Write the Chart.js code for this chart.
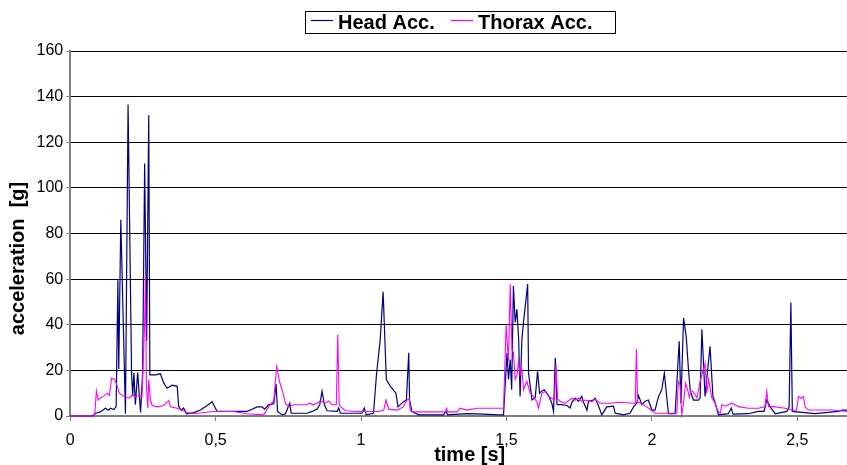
<!DOCTYPE html>
<html>
<head>
<meta charset="utf-8">
<script src="https://cdn.jsdelivr.net/npm/chart.js@4"></script>
<style>
  html, body { margin: 0; padding: 0; background: #fff; }
  #wrap { width: 847px; height: 465px; position: relative; }
</style>
</head>
<body>
<div id="wrap"><canvas id="myChart"></canvas></div>
<script>
// Head acceleration [g] over time [s]
const headTime = [0, 0.077, 0.087, 0.104, 0.121, 0.132, 0.138, 0.150, 0.158, 0.164,
  0.167, 0.174, 0.190, 0.199, 0.211, 0.215, 0.219, 0.224, 0.232, 0.242,
  0.249, 0.256, 0.263, 0.270, 0.274, 0.293, 0.310, 0.322, 0.333, 0.351,
  0.368, 0.373, 0.382, 0.390, 0.400, 0.425, 0.448, 0.471, 0.488, 0.505,
  0.561, 0.608, 0.643, 0.660, 0.668, 0.682, 0.700, 0.708, 0.713, 0.729,
  0.740, 0.755, 0.760, 0.814, 0.832, 0.849, 0.858, 0.866, 0.874, 0.883,
  0.918, 0.923, 0.929, 1.003, 1.011, 1.018, 1.043, 1.053, 1.066, 1.076,
  1.087, 1.101, 1.120, 1.127, 1.146, 1.156, 1.164, 1.167, 1.175, 1.198,
  1.283, 1.292, 1.298, 1.364, 1.420, 1.472, 1.490, 1.502, 1.507, 1.513,
  1.518, 1.524, 1.530, 1.536, 1.542, 1.547, 1.553, 1.559, 1.573, 1.576,
  1.588, 1.599, 1.607, 1.614, 1.622, 1.630, 1.645, 1.656, 1.662, 1.668,
  1.674, 1.691, 1.708, 1.719, 1.725, 1.736, 1.748, 1.759, 1.765, 1.777,
  1.782, 1.799, 1.805, 1.816, 1.828, 1.845, 1.868, 1.874, 1.891, 1.902,
  1.925, 1.937, 1.948, 1.954, 1.966, 1.977, 1.988, 2.000, 2.011, 2.023,
  2.034, 2.043, 2.057, 2.080, 2.094, 2.100, 2.109, 2.118, 2.126, 2.132,
  2.143, 2.160, 2.166, 2.172, 2.183, 2.200, 2.210, 2.218, 2.229, 2.263,
  2.273, 2.279, 2.332, 2.366, 2.386, 2.395, 2.407, 2.424, 2.464, 2.472,
  2.478, 2.483, 2.561, 2.641, 2.653, 2.671];
const headAcc = [0, 0, 1.2, 1.8, 3.4, 2.5, 3.4, 2.8, 4.1, 59.5,
  20.6, 86, 1, 136.5, 19, 9, 19, 5, 19, 1.5,
  19, 110.7, 33, 131.8, 18, 18, 18.5, 14.4, 12.2, 13.5,
  13, 4.3, 2.5, 3.5, 1, 1.5, 2.6, 4.6, 6.3, 2,
  2, 2, 4, 4, 3, 4.9, 5.4, 14, 2, 0.5,
  1, 5.6, 1.2, 1.2, 2, 3, 4.9, 10.8, 5, 2.3,
  2, 3.5, 1.2, 1.2, 3.5, 0.5, 1.2, 18, 33.5, 54.5,
  16, 13, 10, 4, 6.3, 7, 27.7, 7, 2, 0.5,
  0.5, 2, 0.5, 1, 0.8, 0.5, 0.5, 27.7, 16, 24.7,
  11.5, 57, 41, 46.8, 33.5, 8.6, 33.5, 41.6, 57.8, 18.8,
  7, 8, 19.6, 10, 11, 11.5, 9, 5.6, 2, 25.5,
  5, 5, 4.6, 3.5, 6, 7.8, 6.5, 8.6, 6, 2.6,
  6.5, 7, 7.8, 4.6, 0.5, 4, 4.3, 1.2, 0.8, 0.5,
  1.2, 4, 5.6, 9, 5, 6.5, 7, 2.6, 2.6, 8.6,
  11.5, 18.8, 1, 1, 32.8, 5.6, 43, 35, 20.3, 11,
  7, 7, 8, 38, 8.6, 30.6, 8.6, 5.6, 0.5, 1,
  3.5, 0.8, 1, 2, 2, 7, 4, 1, 2, 4,
  49.7, 2, 1, 2, 2.6, 2.6];

// Thorax acceleration [g] over time [s]
const thoraxTime = [0, 0.084, 0.090, 0.096, 0.104, 0.115, 0.127, 0.135, 0.142, 0.153,
  0.162, 0.169, 0.184, 0.201, 0.213, 0.224, 0.236, 0.247, 0.256, 0.259,
  0.262, 0.267, 0.270, 0.276, 0.282, 0.299, 0.322, 0.339, 0.345, 0.368,
  0.402, 0.425, 0.492, 0.561, 0.608, 0.665, 0.682, 0.700, 0.710, 0.720,
  0.732, 0.740, 0.751, 0.768, 0.791, 0.814, 0.823, 0.835, 0.849, 0.860,
  0.877, 0.889, 0.900, 0.915, 0.920, 0.925, 0.931, 0.946, 0.986, 1.032,
  1.060, 1.078, 1.086, 1.095, 1.124, 1.145, 1.158, 1.166, 1.169, 1.175,
  1.249, 1.290, 1.294, 1.298, 1.330, 1.341, 1.364, 1.399, 1.444, 1.490,
  1.499, 1.507, 1.513, 1.519, 1.524, 1.530, 1.536, 1.542, 1.547, 1.553,
  1.559, 1.570, 1.582, 1.593, 1.605, 1.610, 1.622, 1.633, 1.645, 1.656,
  1.665, 1.670, 1.676, 1.685, 1.702, 1.725, 1.736, 1.748, 1.759, 1.771,
  1.794, 1.805, 1.816, 1.822, 1.857, 1.891, 1.937, 1.943, 1.947, 1.951,
  1.960, 1.983, 2.000, 2.011, 2.086, 2.091, 2.097, 2.103, 2.109, 2.116,
  2.122, 2.129, 2.134, 2.143, 2.155, 2.166, 2.174, 2.183, 2.189, 2.195,
  2.206, 2.218, 2.225, 2.235, 2.241, 2.252, 2.275, 2.298, 2.332, 2.366,
  2.389, 2.395, 2.401, 2.418, 2.458, 2.481, 2.498, 2.504, 2.513, 2.521,
  2.527, 2.538, 2.619, 2.671];
const thoraxAcc = [0, 0, 11, 7, 8, 8.6, 10, 9, 16.6, 16,
  13, 10, 8.6, 7.8, 9, 8.5, 9, 8.5, 40.9, 61.5,
  13, 3.4, 16, 7, 4.6, 4, 4.6, 6.8, 4, 3.4,
  1.5, 1, 2, 2, 1, 0.5, 4, 6.8, 21.8, 15,
  10, 5.5, 4, 4.9, 4.9, 4.9, 5.6, 4.9, 5.6, 6.6,
  5.6, 6.6, 4.9, 4.9, 35.7, 4.9, 4, 2.3, 2, 2,
  2, 2.6, 7, 3, 2.6, 4, 7, 7.5, 2.6, 1.8,
  1.8, 1.8, 3.4, 1.8, 1.8, 3.4, 2.6, 3.4, 3.4, 3.4,
  40, 24, 57.8, 29, 28, 16, 18, 24, 18, 20.3,
  11.5, 15.2, 10, 8.6, 6, 3.4, 10, 10.8, 8.6, 7.8,
  7, 22.5, 7.5, 6.3, 5.6, 7.8, 7, 7.8, 6.3, 7,
  6.3, 7.3, 6.3, 5.6, 5.6, 6, 5.6, 5.6, 29.4, 6.2,
  5.6, 4, 2.3, 1.2, 1.2, 15.2, 13.7, 0.5, 5.6, 14.4,
  12, 8.2, 11, 10.5, 8, 15.2, 19, 23, 10, 16,
  8, 5.6, 2.6, 1.2, 4.9, 4.3, 5.6, 4.1, 3.4, 3.4,
  4.1, 10.8, 4.1, 4.1, 3.4, 2.6, 2.6, 8.6, 7.8, 8.6,
  4, 2.6, 2.6, 2];

const xTicks = [0, 0.5, 1, 1.5, 2, 2.5];
const seriesNames = ['Head Acc.', 'Thorax Acc.'];
const seriesColors = ['#000080', '#FF00FF'];

const toPoints = (xs, ys) => xs.map((x, i) => ({ x: x, y: ys[i] }));
const FONT = '"Liberation Sans", Arial, sans-serif';

// legende encadree comme dans l'original
const boxedLegend = {
  id: 'boxedLegend',
  afterDraw(chart) {
    const c = chart.ctx;
    c.save();
    c.strokeStyle = '#000';
    c.lineWidth = 1;
    c.strokeRect(305.5, 11.5, 310, 22);
    c.font = 'bold 20px ' + FONT;
    c.textBaseline = 'middle';
    const items = [{ x: 311, name: seriesNames[0], color: seriesColors[0] },
                   { x: 451, name: seriesNames[1], color: seriesColors[1] }];
    items.forEach(it => {
      c.strokeStyle = it.color;
      c.lineWidth = 1.2;
      c.beginPath();
      c.moveTo(it.x, 20.5);
      c.lineTo(it.x + 22, 20.5);
      c.stroke();
      c.fillStyle = '#000';
      c.fillText(it.name, it.x + 27, 23);
    });
    c.restore();
  }
};

const ctx = document.getElementById('myChart').getContext('2d');
const myChart = new Chart(ctx, {
  type: 'line',
  data: {
    datasets: [{
      label: seriesNames[0],
      data: toPoints(headTime, headAcc),
      borderColor: seriesColors[0],
      backgroundColor: seriesColors[0],
      borderWidth: 1.2,
      pointRadius: 0,
      tension: 0,
      clip: 2,
      order: 1
    }, {
      label: seriesNames[1],
      data: toPoints(thoraxTime, thoraxAcc),
      borderColor: seriesColors[1],
      backgroundColor: seriesColors[1],
      borderWidth: 1.1,
      pointRadius: 0,
      tension: 0,
      clip: 2,
      order: 0
    }]
  },
  plugins: [boxedLegend],
  options: {
    responsive: true,
    maintainAspectRatio: false,
    animation: false,
    layout: { padding: { top: 51, right: 0, left: 6, bottom: 0 } },
    plugins: {
      legend: { display: false },
      tooltip: { enabled: false }
    },
    scales: {
      x: {
        type: 'linear',
        min: 0,
        max: 2.671,
        afterBuildTicks: scale => {
          scale.ticks = xTicks.map(v => ({ value: v }));
        },
        ticks: {
          maxRotation: 0,
          autoSkip: false,
          color: '#000',
          padding: 12,
          font: { family: FONT, size: 16, lineHeight: 1 },
          callback: v => String(v).replace('.', ',')
        },
        grid: { drawOnChartArea: false, color: '#808080', tickLength: 5 },
        border: { color: '#808080', width: 2 },
        title: {
          display: true,
          text: '    time [s]',
          color: '#000',
          padding: { top: -14, bottom: 2 },
          font: { family: FONT, size: 20, weight: 'bold', lineHeight: 0.8 }
        }
      },
      y: {
        min: 0,
        max: 160,
        ticks: {
          stepSize: 20,
          color: '#000',
          padding: 3,
          font: { family: FONT, size: 16 }
        },
        grid: {
          color: c => (c.tick && c.tick.value === 0) ? 'rgba(0,0,0,0)' : '#000',
          lineWidth: 1,
          tickColor: '#808080',
          tickLength: 4
        },
        border: { color: '#808080', width: 2 },
        title: {
          display: true,
          text: 'acceleration  [g]         ',
          color: '#000',
          padding: { top: 0, bottom: 3.5 },
          font: { family: FONT, size: 20, weight: 'bold' }
        }
      }
    }
  }
});
</script>
</body>
</html>
